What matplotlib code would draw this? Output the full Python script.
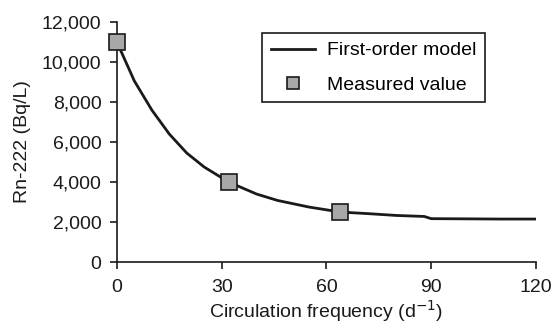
import matplotlib
matplotlib.use('Agg')
import matplotlib.pyplot as plt
from matplotlib.ticker import FuncFormatter

plt.rcParams['font.family'] = ['Liberation Sans', 'DejaVu Sans']

# first-order model curve
model_x = [0, 5, 10, 15, 20, 25, 32, 40, 46, 55, 64, 72, 80, 88, 90, 100, 110, 120]
model_y = [11000, 9050, 7600, 6400, 5450, 4750, 4000, 3400, 3080, 2750, 2500, 2420, 2330, 2280, 2170, 2160, 2150, 2150]

# measured values
meas_x = [0, 32, 64]
meas_y = [11000, 4000, 2480]

x_ticks = [0, 30, 60, 90, 120]
y_ticks = [0, 2000, 4000, 6000, 8000, 10000, 12000]

fig = plt.figure(figsize=(5.54, 3.28), dpi=100)
ax = fig.add_axes([0.211, 0.201, 0.7565, 0.732])

ax.plot(model_x, model_y, color='#1a1a1a', lw=2, label='First-order model', zorder=2)
ax.plot(meas_x, meas_y, ls='none', marker='s', ms=12, mfc='#a8a8a8', mec='#1a1a1a',
        mew=1.2, label='Measured value', clip_on=False, zorder=3)

ax.set_xlim(0, 120)
ax.set_ylim(0, 12000)
ax.set_xticks(x_ticks)
ax.set_yticks(y_ticks)
ax.yaxis.set_major_formatter(FuncFormatter(lambda v, p: f'{int(v):,}'))

for s in ['top', 'right']:
    ax.spines[s].set_visible(False)
for s in ['left', 'bottom']:
    ax.spines[s].set_linewidth(1.2)
    ax.spines[s].set_color('#1a1a1a')
ax.tick_params(direction='out', length=5, width=1.2, labelsize=14, colors='#1a1a1a')
ax.tick_params(axis='x', pad=7)
ax.tick_params(axis='y', pad=6)

ax.set_xlabel('Circulation frequency (d$^{-1}$)', fontsize=14, color='#1a1a1a', labelpad=2)
ax.set_ylabel('Rn-222 (Bq/L)', fontsize=14, color='#1a1a1a', labelpad=8)

leg = ax.legend(loc='upper left', bbox_to_anchor=(0.346, 0.954), fontsize=14,
                frameon=True, fancybox=False, edgecolor='#1a1a1a', framealpha=1,
                handlelength=2.3, handletextpad=0.6, borderpad=0.45, labelspacing=0.85,
                borderaxespad=0, markerscale=0.7)
leg.get_frame().set_linewidth(1.2)

fig.savefig('out.png', dpi=100)
